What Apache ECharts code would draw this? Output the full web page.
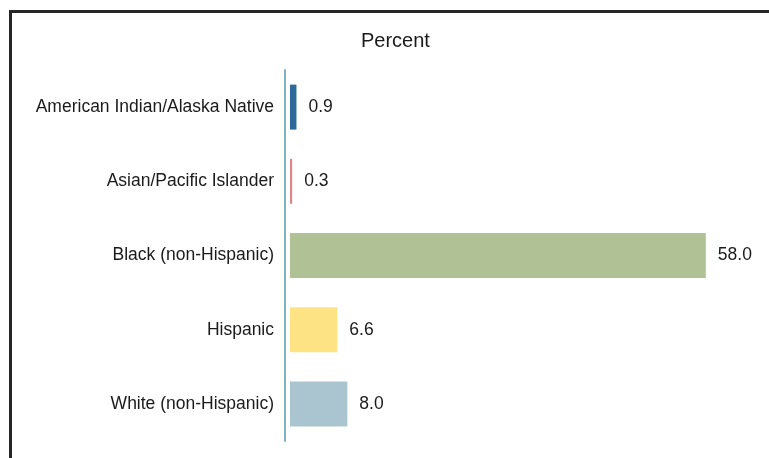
<!DOCTYPE html>
<html><head><meta charset="utf-8">
<script src="https://cdn.jsdelivr.net/npm/echarts@6/dist/echarts.min.js"></script>
<style>
html,body{margin:0;padding:0;background:#fff;}
#c{width:769px;height:458px;position:relative;}
#frame{position:absolute;left:9px;top:10px;width:800px;height:500px;border:3px solid #262626;box-sizing:border-box;pointer-events:none;}
</style></head>
<body>
<div id="c"></div>
<div id="frame"></div>
<script>
const categories = ["American Indian/Alaska Native","Asian/Pacific Islander","Black (non-Hispanic)","Hispanic","White (non-Hispanic)"];
const values = [0.9, 0.3, 58.0, 6.6, 8.0];
const colors = ["#2d6a99","#e08585","#b0c295","#fee385","#abc5d0"];
const titleText = "Percent";

const chart = echarts.init(document.getElementById('c'));
chart.setOption({
  animation:false,
  title:{text:titleText,left:356,top:26,textStyle:{fontFamily:'Liberation Sans',fontWeight:'normal',fontSize:20,color:'#1a1a1a'}},
  grid:{left:290,top:70,width:466,height:371},
  xAxis:{type:'value',min:0,max:65,show:false},
  yAxis:{type:'category',data:categories,inverse:true,offset:5,
    axisLine:{onZero:false,lineStyle:{color:'#7fb2c6',width:2}},
    axisTick:{show:false},
    axisLabel:{fontFamily:'Liberation Sans',fontSize:17.5,color:'#1a1a1a',margin:11,padding:[3,0,0,0]}},
  series:[{type:'bar',barCategoryGap:'39.4%',
    data:values.map((v,i)=>({value:v,itemStyle:{color:colors[i]}})),
    label:{show:true,position:'right',distance:12,padding:[3,0,0,0],fontFamily:'Liberation Sans',fontSize:17.5,color:'#1a1a1a',formatter:p=>p.value.toFixed(1)}}]
});
</script>
</body></html>
